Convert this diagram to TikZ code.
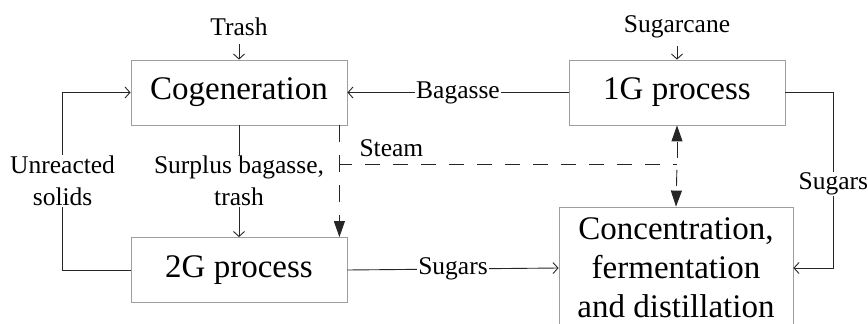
\documentclass[tikz,border=0pt]{standalone}
\usepackage{fontspec}
\setmainfont{Liberation Serif}
\usetikzlibrary{arrows.meta}
\begin{document}
\begin{tikzpicture}[x=1pt,y=-1pt,
  procbox/.style={draw=black!38, line width=0.8pt, rectangle, inner sep=0pt,
    minimum width=216pt, minimum height=65pt, align=center,
    font=\fontsize{33}{39}\selectfont},
  lbl/.style={font=\fontsize{25.5}{32}\selectfont, inner sep=1pt, align=center},
  onlbl/.style={lbl, fill=white},
  flow/.style={draw=black!85, line width=0.9pt,
    -{Straight Barb[length=5pt,width=11pt,line width=0.9pt]}},
  line/.style={draw=black!85, line width=0.9pt},
  steam/.style={draw=black!85, line width=0.9pt, dash pattern=on 16pt off 12pt,
    -{Triangle[length=16pt,width=11pt]}},
]
\clip (0,0) rectangle (868,324);
\fill[white] (0,0) rectangle (868,324);

% process blocks
\node[procbox] (cog) at (239,92.5) {Cogeneration};
\node[procbox] (g1)  at (677,92.5) {1G process};
\node[procbox] (g2)  at (239,270) {2G process};
\node[procbox, minimum width=234pt, minimum height=122pt] (conc) at (676,268)
  {Concentration,\\fermentation\\and distillation};

% feeds
\node[lbl, inner sep=4pt] (trash) at (239,27) {Trash};
\node[lbl, inner sep=4pt] (cane)  at (677,27) {Sugarcane};
\draw[flow, shorten <=4pt] (trash) -- (cog);
\draw[flow, shorten <=4pt] (cane) -- (g1);

% material streams
\draw[flow] (g1.west) -- node[onlbl]{Bagasse} (cog.east);
\draw[flow] (cog) -- node[onlbl]{Surplus bagasse,\\trash} (g2);
\draw[flow] (g2.west) -- ++(-68,0) |- node[pos=0.25,onlbl]{Unreacted\\solids} (cog.west);
\draw[flow] (g2.east) -- node[onlbl]{Sugars} (conc.west);
\draw[flow] (g1.east) -- ++(48,0) |- node[pos=0.26,onlbl]{Sugars} (conc.east);

% steam distribution
\coordinate (sL) at (339,164);
\coordinate (sR) at (677,164);
\draw[steam, dash pattern=on 17pt off 13pt] ([xshift=-8pt]cog.south east) -- ([xshift=-8pt]g2.north east);
\draw[line, dash pattern=on 15pt off 13pt, dash phase=2pt] (sL) -- node[pos=0.155, above=6pt, lbl]{Steam} (sR);
\draw[steam, dash phase=22pt] (sR) -- (g1.south);
\draw[steam, dash phase=22pt] (sR) -- (conc.north);
\end{tikzpicture}
\end{document}
